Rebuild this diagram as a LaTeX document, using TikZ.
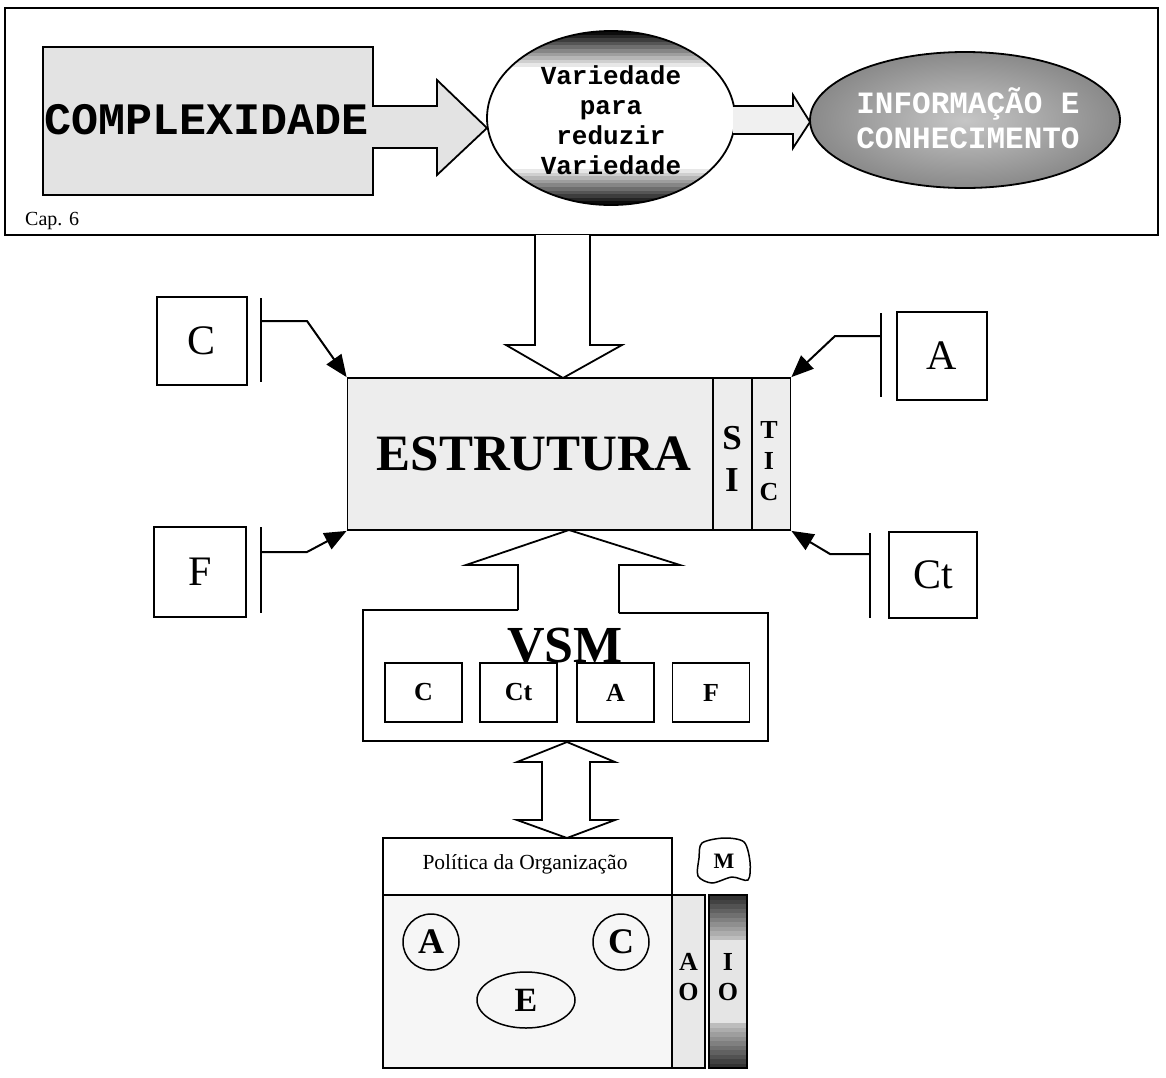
\documentclass[tikz,border=0pt]{standalone}
\usepackage{fontspec}
\setmainfont{Liberation Serif}
\setmonofont{Liberation Mono}
\usetikzlibrary{arrows.meta,shapes.geometric}
\newcommand{\fs}[1]{\fontsize{#1}{#1}\selectfont}
\begin{document}
\begin{tikzpicture}[x=1pt,y=-1pt,
  box/.style={draw,line width=1.8pt,inner sep=0pt},
  sidebox/.style={box,line width=2pt,font=\fs{42}},
  inbox/.style={box,minimum width=77pt,minimum height=59pt,font=\fs{26}\bfseries},
  bar/.style={line width=2.5pt},
  conn/.style={line width=2pt,-{Triangle[length=22pt,width=18pt]}},
  blockarrow/.style={draw,line width=1.8pt,fill=white,line join=miter},
  lbl/.style={inner sep=0pt}]
\useasboundingbox (0,0) rectangle (1166,1077);

% ---------- top frame ----------
\draw[line width=2pt] (5,8) rectangle (1158,235);
\node[lbl,anchor=base west,font=\fs{20}] (cap) at (25,225) {Cap. 6};

% complexidade box + arrow (one outline)
\draw[line width=1.8pt,fill=gray!22,line join=miter]
  (43,47) -- (373,47) -- (373,106) -- (437,106) -- (437,80) -- (487,128)
  -- (437,175) -- (437,148) -- (373,148) -- (373,195) -- (43,195) -- cycle;
\node[lbl,font=\ttfamily\bfseries\fs{45}] (compl) at (207,120) {COMPLEXIDADE};

% ellipse 1 (dark bands at top and bottom)
\begin{scope}
  \clip (611,118) ellipse [x radius=124, y radius=87];
  \fill[white] (487,31) rectangle (735,205);
  \foreach \i in {0,...,9} {
    \pgfmathsetmacro{\g}{95-9.5*\i}
    \fill[black!\g] (487,31+3.6*\i) rectangle (735,31+3.6*\i+3.7);
    \fill[black!\g] (487,205-3.6*\i) rectangle (735,205-3.6*\i-3.7);
  }
\end{scope}
\draw[line width=1.8pt] (611,118) ellipse [x radius=124, y radius=87];
\node[lbl,align=center,font=\ttfamily\bfseries\fontsize{26}{30}\selectfont] (var) at (611,120)
  {Variedade\\para\\reduzir\\Variedade};

% arrow 2
\draw[blockarrow,fill=gray!12] (733,106) -- (793,106) -- (793,95) -- (810,122)
  -- (793,148) -- (793,134) -- (733,134);

% ellipse 2
\shade[inner color=gray!45, outer color=gray!92] (965,120) ellipse [x radius=155, y radius=68];
\draw[line width=1.8pt] (965,120) ellipse [x radius=155, y radius=68];
\node[lbl,align=center,text=white,font=\ttfamily\bfseries\fontsize{31}{35}\selectfont] (info) at (968,118)
  {INFORMAÇÃO E\\CONHECIMENTO};

% ---------- down arrow to estrutura ----------
\draw[blockarrow] (535,235) -- (535,345) -- (506,345) -- (563,378) -- (622,345)
  -- (590,345) -- (590,235);

% ---------- estrutura ----------
\node[box,fill=gray!14,minimum width=443pt,minimum height=152pt] (estr) at (569,454) {};
\draw[line width=1.5pt] (713,378) -- (713,530);
\draw[line width=1.5pt] (752,378) -- (752,530);
\node[lbl,font=\bfseries\fs{51}] (estrt) at (534,454) {ESTRUTURA};
\node[lbl,align=center,font=\bfseries\fontsize{35}{42}\selectfont] (si) at (732,459) {S\\I};
\node[lbl,align=center,font=\bfseries\fontsize{26}{31}\selectfont] (tic) at (769,461) {T\\I\\C};

% ---------- side boxes ----------
\node[sidebox,minimum width=90pt,minimum height=88pt] (c) at (202,341) {C};
\node[sidebox,minimum width=92pt,minimum height=90pt] (f) at (200,572) {F};
\node[sidebox,minimum width=90pt,minimum height=88pt] (a) at (942,356) {A};
\node[sidebox,minimum width=88pt,minimum height=86pt] (ct) at (933,575) {Ct};

\draw[bar] (261,298) -- (261,382);
\draw[bar] (261,527) -- (261,613);
\draw[bar] (881,313) -- (881,397);
\draw[bar] (870,533) -- (870,618);

\coordinate (cS) at (261,321);
\coordinate (fS) at (261,552);
\coordinate (aS) at (881,336);
\coordinate (ctS) at (870,554);
\draw[conn] (cS) -- (307,321) -- (estr.north west);
\draw[conn] (fS) -- (307,552) -- (estr.south west);
\draw[conn] (aS) -- (835,336) -- (estr.north east);
\draw[conn] (ctS) -- (830,554) -- (estr.south east);

% ---------- VSM ----------
\draw[line width=2.2pt,fill=white,line join=miter]
  (518,610) -- (363,610) -- (363,741) -- (768,741) -- (768,613) -- (619,613);
\draw[blockarrow] (518,610) -- (518,565) -- (466,565) -- (569,530) -- (680,565)
  -- (619,565) -- (619,613);
\node[lbl,font=\bfseries\fs{52}] (vsm) at (565,646) {VSM};
\node[inbox] (vc) at (423.5,692.5) {C};
\node[inbox] (vct) at (518.5,692.5) {Ct};
\node[inbox] (va) at (615.5,692.5) {A};
\node[inbox] (vf) at (711,692.5) {F};

% ---------- double arrow ----------
\draw[blockarrow] (567,742) -- (615,762) -- (590,762) -- (590,820) -- (615,820)
  -- (567,838) -- (517,820) -- (542,820) -- (542,762) -- (517,762) -- cycle;

% ---------- politica ----------
\fill[gray!7] (383,895) rectangle (672,1068);
\draw[line width=1.8pt] (383,838) rectangle (672,1068);
\draw[line width=1.5pt] (383,895) -- (672,895);
\node[lbl,font=\fs{21.5}] (pol) at (525,864) {Política da Organização};

\node[draw,line width=1.5pt,circle,minimum size=56pt,inner sep=0pt,font=\bfseries\fs{36}] (oa) at (431,942) {A};
\node[draw,line width=1.5pt,circle,minimum size=56pt,inner sep=0pt,font=\bfseries\fs{36}] (oc) at (621,942) {C};
\node[draw,line width=1.5pt,ellipse,minimum width=98pt,minimum height=56pt,inner sep=0pt,font=\bfseries\fs{34}] (oe) at (526,1000) {E};

\node[box,fill=gray!18,minimum width=33pt,minimum height=173pt] (aocol) at (688.5,981.5) {};
\fill[gray!20] (709,895) rectangle (747,1068);
\foreach \i in {0,...,9} {
  \pgfmathsetmacro{\g}{80-6*\i}
  \fill[black!\g] (709,895+4.5*\i) rectangle (747,895+4.5*\i+4.6);
  \fill[black!\g] (709,1068-4.5*\i) rectangle (747,1068-4.5*\i-4.6);
}
\node[box,minimum width=38pt,minimum height=173pt] (iocol) at (728,981.5) {};
\node[lbl,align=center,font=\bfseries\fontsize{26}{30}\selectfont] (ao) at (688.5,977) {A\\O};
\node[lbl,align=center,font=\bfseries\fontsize{26}{30}\selectfont] (io) at (728,977) {I\\O};

\draw[line width=1.5pt,fill=white] plot[smooth cycle] coordinates
  {(702,843) (724,838) (744,842) (750,862) (748,880) (732,877) (712,883) (698,876) (699,858)};
\node[lbl,font=\bfseries\fs{22}] (m) at (724,861) {M};
\end{tikzpicture}
\end{document}
